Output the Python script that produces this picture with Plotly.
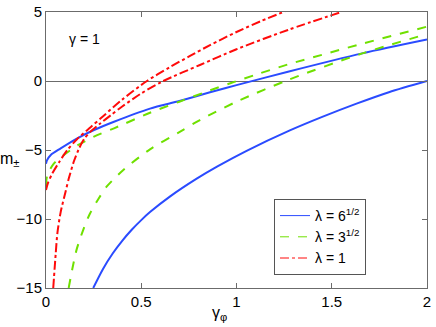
"""
m_plus / m_minus against gamma_phi for three lambda values (gamma = 1)
"""
import plotly.graph_objects as go

# values
blue_up_x = [0, 0.005, 0.025, 0.077, 0.164, 0.252, 0.357, 0.546, 0.70, 0.861, 1.0, 1.27, 1.66, 2.0]
blue_up_y = [-6.0, -5.75, -5.36, -4.88, -4.15, -3.55, -2.95, -2.0, -1.45, -0.82, -0.3, 0.67, 2.0, 3.0]
blue_lo_x = [0.248, 0.30, 0.35, 0.40, 0.45, 0.50, 0.546, 0.65, 0.791, 0.90, 1.053, 1.28, 1.45, 1.63, 1.80, 2.0]
blue_lo_y = [-15.0, -13.6, -12.5, -11.58, -10.78, -10.08, -9.5, -8.38, -7.08, -6.19, -5.06, -3.58, -2.6, -1.64, -0.81, 0.0]

green_up_x = [0, 0.007, 0.042, 0.094, 0.164, 0.252, 0.357, 0.546, 0.70, 0.861, 0.96, 1.1, 1.27, 1.45, 1.64, 2.0]
green_up_y = [-7.6, -6.8, -5.97, -5.36, -4.68, -4.03, -3.43, -2.3, -1.5, -0.68, -0.2, 0.45, 1.2, 1.9, 2.63, 3.94]
green_lo_x = [0.119, 0.140, 0.161, 0.195, 0.231, 0.275, 0.318, 0.406, 0.546, 0.70, 0.808, 1.0, 1.27, 1.66, 2.0]
green_lo_y = [-15.0, -13.5, -12.2, -10.8, -9.6, -8.55, -7.66, -6.45, -4.95, -3.7, -2.83, -1.5, 0.07, 2.0, 3.4]

red_up_x = [0, 0.01, 0.033, 0.068, 0.112, 0.164, 0.234, 0.30, 0.40, 0.53, 0.65, 0.756, 0.861, 1.0, 1.13, 1.255]
red_up_y = [-7.9, -7.4, -6.7, -5.9, -5.0, -4.2, -3.35, -2.55, -1.35, 0.0, 1.0, 1.82, 2.6, 3.55, 4.35, 5.05]
red_lo_x = [0.038, 0.051, 0.06, 0.077, 0.103, 0.121, 0.147, 0.17, 0.2, 0.235, 0.283, 0.34, 0.40, 0.50, 0.616, 0.808, 1.0, 1.27, 1.55]
red_lo_y = [-15.0, -12.5, -11.0, -9.5, -8.0, -7.0, -5.8, -5.0, -4.2, -3.65, -3.1, -2.48, -1.85, -0.9, 0.0, 1.16, 2.3, 3.7, 5.0]

x_ticks = [0, 0.5, 1, 1.5, 2]
y_ticks = [-15, -10, -5, 0, 5]

BLUE = '#2a4bff'
GREEN = '#6fe000'
RED = '#ff0a0a'

curves = [
    (blue_up_x, blue_up_y, BLUE, 'solid'),
    (blue_lo_x, blue_lo_y, BLUE, 'solid'),
    (green_up_x, green_up_y, GREEN, 'dash'),
    (green_lo_x, green_lo_y, GREEN, 'dash'),
    (red_up_x, red_up_y, RED, 'dashdot'),
    (red_lo_x, red_lo_y, RED, 'dashdot'),
]
legend_items = [
    ('λ = 6<sup>1/2</sup>', BLUE, 'solid'),
    ('λ = 3<sup>1/2</sup>', GREEN, 'dash'),
    ('λ = 1', RED, 'dashdot'),
]

FIG_W, FIG_H = 436, 327
# plot box in pixels (left, right, top, bottom)
L, R, T, B = 46, 427, 12, 288
W, H = R - L, B - T


def paper_xy(px, py):
    """pixel position -> paper coordinates"""
    return (px - L) / W, (B - py) / H


fig = go.Figure()
for xs, ys, color, dash in curves:
    fig.add_trace(go.Scatter(
        x=xs, y=ys, mode='lines', showlegend=False, hoverinfo='skip',
        line=dict(color=color, width=2, dash=dash, shape='spline', smoothing=0.8)
    ))

# legend entries drawn with thin lines like the reference
for name, color, dash in legend_items:
    fig.add_trace(go.Scatter(
        x=[None], y=[None], mode='lines', name=name,
        line=dict(color=color, width=1, dash=dash)
    ))

axis_style = dict(
    showline=True, linecolor='#6b6b6b', linewidth=1, mirror='ticks',
    ticks='inside', ticklen=5, tickcolor='#6b6b6b', showgrid=False,
    tickfont=dict(size=15, color='#000000'), automargin=False,
)

labels = [
    ('γ = 1', 84, 39, 14),
    ('m<sub>±</sub>', 9, 160, 16),
    ('γ<sub>φ</sub>', 219, 313, 16),
]
annotations = []
for text, px, py, size in labels:
    ax, ay = paper_xy(px, py)
    annotations.append(dict(text=text, x=ax, y=ay, xref='paper', yref='paper',
                            xanchor='center', yanchor='middle', showarrow=False,
                            font=dict(size=size)))

lx, ly = paper_xy(274, 199)

fig.update_layout(
    width=FIG_W, height=FIG_H,
    paper_bgcolor='#ffffff', plot_bgcolor='#ffffff',
    font=dict(family='Liberation Sans, Arial, sans-serif', color='#000000'),
    margin=dict(l=L, r=FIG_W - R, t=T, b=FIG_H - B, autoexpand=False),
    xaxis=dict(range=[0, 2], tickvals=x_ticks, ticktext=[str(v) for v in x_ticks],
               zeroline=False, **axis_style),
    yaxis=dict(range=[-15, 5], tickvals=y_ticks, zeroline=True,
               zerolinecolor='#6b6b6b', zerolinewidth=1, **axis_style),
    legend=dict(
        x=lx, y=ly, xanchor='left', yanchor='top',
        bgcolor='#ffffff', bordercolor='#555555', borderwidth=1,
        font=dict(size=14), tracegroupgap=0, itemwidth=30,
    ),
    annotations=annotations,
)

# drop the default page margin so the figure sits at the window corner
fig.write_html('out.html', config={'displayModeBar': False},
               post_script="document.body.style.margin='0';")
